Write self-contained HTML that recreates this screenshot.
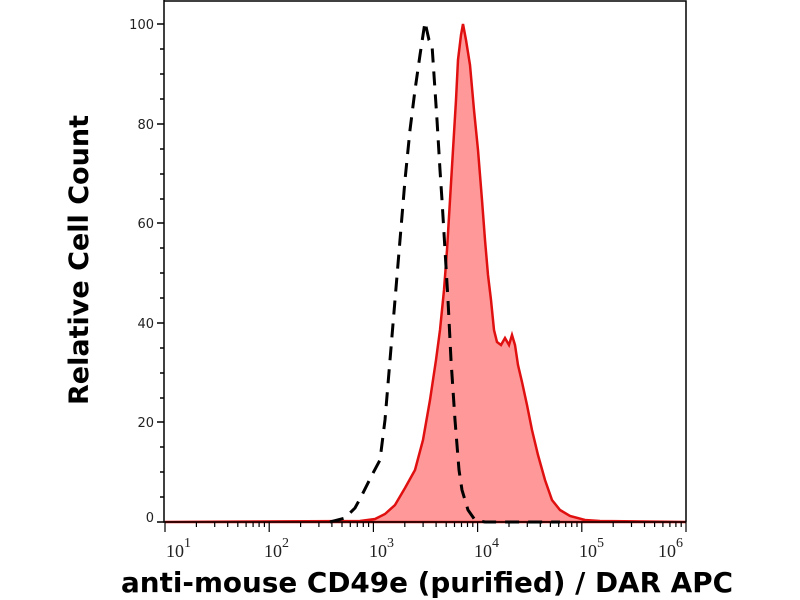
<!DOCTYPE html><html><head><style>body{margin:0;background:#fff}svg{display:block}</style></head><body>
<svg width="800" height="600" viewBox="0 0 800 600" xmlns="http://www.w3.org/2000/svg" font-family="DejaVu Sans, sans-serif">
<defs><g id="dec" stroke="#000" stroke-width="1.2"><line x1="0" y1="522" x2="0" y2="532"/><line x1="31.4" y1="522" x2="31.4" y2="527"/><line x1="49.7" y1="522" x2="49.7" y2="527"/><line x1="62.7" y1="522" x2="62.7" y2="527"/><line x1="72.8" y1="522" x2="72.8" y2="527"/><line x1="81.1" y1="522" x2="81.1" y2="527"/><line x1="88.1" y1="522" x2="88.1" y2="527"/><line x1="94.1" y1="522" x2="94.1" y2="527"/><line x1="99.4" y1="522" x2="99.4" y2="527"/></g></defs>
<rect width="800" height="600" fill="#fff"/>
<path d="M165,522 L360,521 L375,519 L385,514 L395,505 L405,488 L415,470 L423,440 L430,400 L436,360 L440,330 L444,290 L447,250 L450,200 L453,150 L456,100 L458,60 L461,35 L463,24 L466,40 L470,65 L474,110 L478,150 L482,200 L485,240 L488,275 L491,300 L494,330 L497,342 L501,345 L505,338 L509,345 L512,335 L515,345 L518,365 L522,382 L527,405 L532,430 L538,455 L545,480 L552,500 L560,510 L570,516 L585,520 L600,521 L686,522 Z" fill="#f99" stroke="#e01010" stroke-width="2.5"/>
<path d="M330,522 L345,518 L355,508 L362,495 L372,475 L380,460 L385,420 L390,360 L395,300 L400,240 L405,180 L410,130 L415,90 L420,55 L425,22 L429,40 L432,45 L435,90 L437,120 L440,170 L442,200 L445,250 L448,300 L451,360 L455,420 L459,470 L462,490 L468,510 L475,520 L485,522 L560,522" fill="none" stroke="#000" stroke-width="3" stroke-dasharray="14,9"/>
<path d="M164,1 L686,1 L686,522 M164,0 L164,522 L686,522" fill="none" stroke="#000" stroke-width="1.5"/>
<g stroke="#000" stroke-width="1.5">
<line x1="157" y1="24" x2="164" y2="24"/><line x1="157" y1="124" x2="164" y2="124"/><line x1="157" y1="223" x2="164" y2="223"/><line x1="157" y1="323" x2="164" y2="323"/><line x1="157" y1="422" x2="164" y2="422"/><line x1="157" y1="522" x2="164" y2="522"/>
<line x1="160" y1="49" x2="164" y2="49"/><line x1="160" y1="74" x2="164" y2="74"/><line x1="160" y1="99" x2="164" y2="99"/><line x1="160" y1="149" x2="164" y2="149"/><line x1="160" y1="174" x2="164" y2="174"/><line x1="160" y1="199" x2="164" y2="199"/><line x1="160" y1="248" x2="164" y2="248"/><line x1="160" y1="273" x2="164" y2="273"/><line x1="160" y1="298" x2="164" y2="298"/><line x1="160" y1="348" x2="164" y2="348"/><line x1="160" y1="373" x2="164" y2="373"/><line x1="160" y1="398" x2="164" y2="398"/><line x1="160" y1="447" x2="164" y2="447"/><line x1="160" y1="472" x2="164" y2="472"/><line x1="160" y1="497" x2="164" y2="497"/>
</g>
<use href="#dec" x="165"/><use href="#dec" x="269.2"/><use href="#dec" x="373.4"/><use href="#dec" x="477.6"/><use href="#dec" x="581.8"/>
<line x1="686" y1="522" x2="686" y2="532" stroke="#000" stroke-width="1.2"/>
<g font-size="13" text-anchor="end" fill="#222">
<text x="154" y="29">100</text><text x="154" y="129">80</text><text x="154" y="228">60</text><text x="154" y="328">40</text><text x="154" y="427">20</text><text x="154" y="522">0</text>
</g>
<g font-family="Liberation Serif, serif" font-size="18" fill="#222">
<text x="166" y="557">10<tspan dy="-10" font-size="14">1</tspan></text>
<text x="264" y="557">10<tspan dy="-10" font-size="14">2</tspan></text>
<text x="369" y="557">10<tspan dy="-10" font-size="14">3</tspan></text>
<text x="474" y="557">10<tspan dy="-10" font-size="14">4</tspan></text>
<text x="579" y="557">10<tspan dy="-10" font-size="14">5</tspan></text>
<text x="658" y="557">10<tspan dy="-10" font-size="14">6</tspan></text>
</g>
<text x="427" y="592" text-anchor="middle" font-size="27.5" font-weight="bold" textLength="612" lengthAdjust="spacingAndGlyphs">anti-mouse CD49e (purified) / DAR APC</text>
<text transform="translate(88,260) rotate(-90)" text-anchor="middle" font-size="27" font-weight="bold" textLength="290" lengthAdjust="spacingAndGlyphs">Relative Cell Count</text>
</svg>
</body></html>
